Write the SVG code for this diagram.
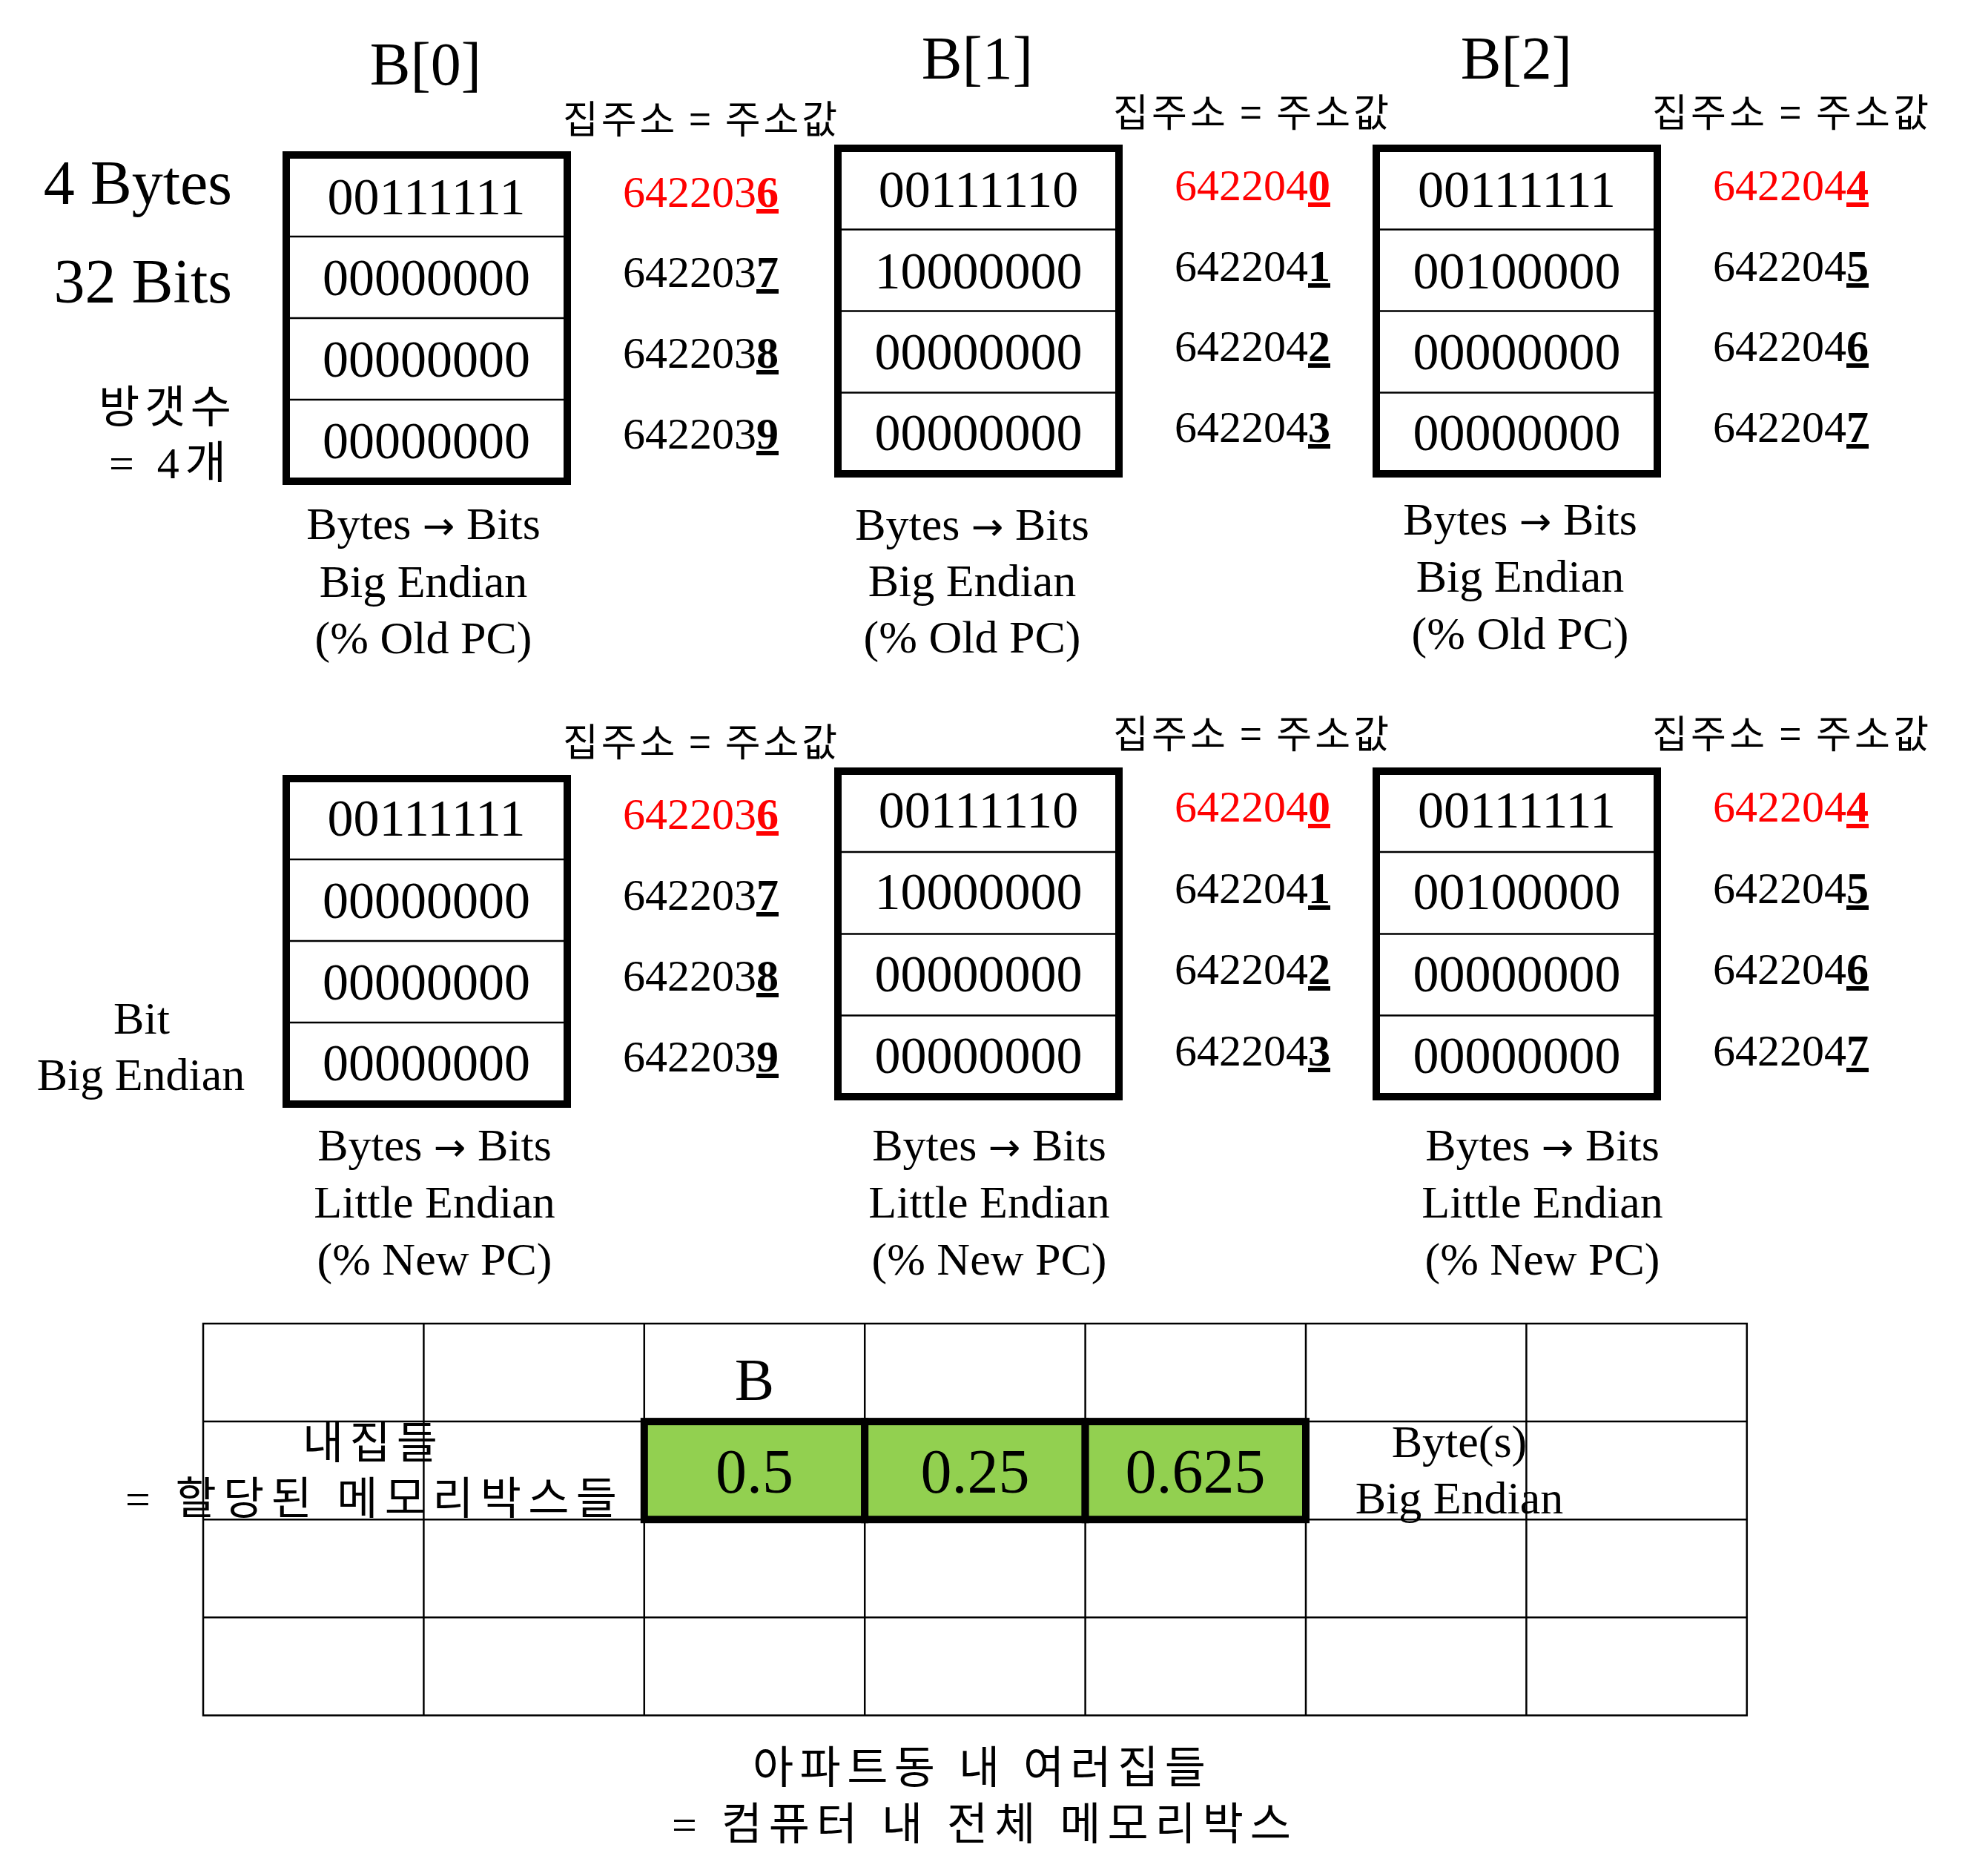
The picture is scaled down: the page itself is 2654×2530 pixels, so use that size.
<svg xmlns="http://www.w3.org/2000/svg" width="2654" height="2530" viewBox="0 0 2654 2530">
<style>
text{font-family:"Liberation Serif","Noto Sans CJK KR",serif;fill:#000}
.box{fill:#fff;stroke:#000;stroke-width:10}
.dv{stroke:#000;stroke-width:2.5}
.val{font-size:70px;text-anchor:middle}
.addr{font-size:60px;text-anchor:end}
.red{fill:#FF0000}
.bu{font-weight:bold;text-decoration:underline}
.cap{font-size:62px;text-anchor:middle}
.ar{font-family:"DejaVu Sans",sans-serif;font-size:52px}
.ttl{font-size:82px;text-anchor:middle}
.kl{font-family:"Noto Sans CJK KR","Liberation Serif",sans-serif;font-size:52px}
.big{font-size:84px;text-anchor:end}
.grid{stroke:#000;stroke-width:2.5;fill:none}
.green{fill:#92D050;stroke:#000;stroke-width:10}
.ko{font-family:"Liberation Serif","Noto Sans CJK KR",sans-serif;font-size:60px}
</style>
<rect x="0" y="0" width="2654" height="2530" fill="#fff"/>

<g id="titles">
<text class="ttl" x="574" y="114">B[0]</text>
<text class="ttl" x="1318" y="106">B[1]</text>
<text class="ttl" x="2045" y="106">B[2]</text>
</g>

<g id="left-labels">
<text class="big" x="313" y="275">4 Bytes</text>
<text class="big" x="313" y="408">32 Bits</text>
<text class="ko" x="312" y="570" text-anchor="end" textLength="179" lengthAdjust="spacing">방갯수</text>
<text class="ko" x="305" y="645" text-anchor="end" textLength="158" lengthAdjust="spacing">= 4개</text>
<text class="cap" x="191" y="1394">Bit</text>
<text class="cap" x="190" y="1470">Big Endian</text>
</g>

<g id="addr-labels">
<text class="kl" x="759" y="180" textLength="370" lengthAdjust="spacing">집주소 = 주소값</text>
<text class="kl" x="1501" y="171" textLength="372" lengthAdjust="spacing">집주소 = 주소값</text>
<text class="kl" x="2228" y="171" textLength="373" lengthAdjust="spacing">집주소 = 주소값</text>
<text class="kl" x="759" y="1020" textLength="370" lengthAdjust="spacing">집주소 = 주소값</text>
<text class="kl" x="1501" y="1009" textLength="372" lengthAdjust="spacing">집주소 = 주소값</text>
<text class="kl" x="2228" y="1009" textLength="373" lengthAdjust="spacing">집주소 = 주소값</text>
</g>

<g id="box-B0-big">
<rect class="box" x="386" y="209" width="379" height="440"/>
<line class="dv" x1="391" y1="319" x2="760" y2="319"/>
<line class="dv" x1="391" y1="429" x2="760" y2="429"/>
<line class="dv" x1="391" y1="539" x2="760" y2="539"/>
<text class="val" x="575" y="289">00111111</text>
<text class="val" x="575" y="398">00000000</text>
<text class="val" x="575" y="508">00000000</text>
<text class="val" x="575" y="618">00000000</text>
<text class="addr red" x="1050" y="279">642203<tspan class="bu">6</tspan></text>
<text class="addr" x="1050" y="387">642203<tspan class="bu">7</tspan></text>
<text class="addr" x="1050" y="496">642203<tspan class="bu">8</tspan></text>
<text class="addr" x="1050" y="605">642203<tspan class="bu">9</tspan></text>
<text class="cap" x="571" y="727">Bytes <tspan class="ar">→</tspan> Bits</text>
<text class="cap" x="571" y="805">Big Endian</text>
<text class="cap" x="571" y="881">(% Old PC)</text>
</g>

<g id="box-B1-big">
<rect class="box" x="1130" y="200" width="379" height="439"/>
<line class="dv" x1="1135" y1="309.5" x2="1504" y2="309.5"/>
<line class="dv" x1="1135" y1="419.5" x2="1504" y2="419.5"/>
<line class="dv" x1="1135" y1="529.5" x2="1504" y2="529.5"/>
<text class="val" x="1319.5" y="279">00111110</text>
<text class="val" x="1319.5" y="389">10000000</text>
<text class="val" x="1319.5" y="498">00000000</text>
<text class="val" x="1319.5" y="607">00000000</text>
<text class="addr red" x="1794" y="270">642204<tspan class="bu">0</tspan></text>
<text class="addr" x="1794" y="379">642204<tspan class="bu">1</tspan></text>
<text class="addr" x="1794" y="487">642204<tspan class="bu">2</tspan></text>
<text class="addr" x="1794" y="596">642204<tspan class="bu">3</tspan></text>
<text class="cap" x="1311" y="728">Bytes <tspan class="ar">→</tspan> Bits</text>
<text class="cap" x="1311" y="804">Big Endian</text>
<text class="cap" x="1311" y="880">(% Old PC)</text>
</g>

<g id="box-B2-big">
<rect class="box" x="1856" y="200" width="379" height="439"/>
<line class="dv" x1="1861" y1="309.5" x2="2230" y2="309.5"/>
<line class="dv" x1="1861" y1="419.5" x2="2230" y2="419.5"/>
<line class="dv" x1="1861" y1="529.5" x2="2230" y2="529.5"/>
<text class="val" x="2045.5" y="279">00111111</text>
<text class="val" x="2045.5" y="389">00100000</text>
<text class="val" x="2045.5" y="498">00000000</text>
<text class="val" x="2045.5" y="607">00000000</text>
<text class="addr red" x="2520" y="270">642204<tspan class="bu">4</tspan></text>
<text class="addr" x="2520" y="379">642204<tspan class="bu">5</tspan></text>
<text class="addr" x="2520" y="487">642204<tspan class="bu">6</tspan></text>
<text class="addr" x="2520" y="596">642204<tspan class="bu">7</tspan></text>
<text class="cap" x="2050" y="721">Bytes <tspan class="ar">→</tspan> Bits</text>
<text class="cap" x="2050" y="798">Big Endian</text>
<text class="cap" x="2050" y="875">(% Old PC)</text>
</g>

<g id="box-B0-little">
<rect class="box" x="386" y="1050" width="379" height="439"/>
<line class="dv" x1="391" y1="1159" x2="760" y2="1159"/>
<line class="dv" x1="391" y1="1269" x2="760" y2="1269"/>
<line class="dv" x1="391" y1="1379" x2="760" y2="1379"/>
<text class="val" x="575" y="1127">00111111</text>
<text class="val" x="575" y="1238">00000000</text>
<text class="val" x="575" y="1348">00000000</text>
<text class="val" x="575" y="1457">00000000</text>
<text class="addr red" x="1050" y="1118">642203<tspan class="bu">6</tspan></text>
<text class="addr" x="1050" y="1227">642203<tspan class="bu">7</tspan></text>
<text class="addr" x="1050" y="1336">642203<tspan class="bu">8</tspan></text>
<text class="addr" x="1050" y="1445">642203<tspan class="bu">9</tspan></text>
<text class="cap" x="586" y="1565">Bytes <tspan class="ar">→</tspan> Bits</text>
<text class="cap" x="586" y="1642">Little Endian</text>
<text class="cap" x="586" y="1719">(% New PC)</text>
</g>

<g id="box-B1-little">
<rect class="box" x="1130" y="1040" width="379" height="439"/>
<line class="dv" x1="1135" y1="1149" x2="1504" y2="1149"/>
<line class="dv" x1="1135" y1="1259.5" x2="1504" y2="1259.5"/>
<line class="dv" x1="1135" y1="1369.5" x2="1504" y2="1369.5"/>
<text class="val" x="1319.5" y="1116">00111110</text>
<text class="val" x="1319.5" y="1226">10000000</text>
<text class="val" x="1319.5" y="1337">00000000</text>
<text class="val" x="1319.5" y="1447">00000000</text>
<text class="addr red" x="1794" y="1108">642204<tspan class="bu">0</tspan></text>
<text class="addr" x="1794" y="1218">642204<tspan class="bu">1</tspan></text>
<text class="addr" x="1794" y="1327">642204<tspan class="bu">2</tspan></text>
<text class="addr" x="1794" y="1437">642204<tspan class="bu">3</tspan></text>
<text class="cap" x="1334" y="1565">Bytes <tspan class="ar">→</tspan> Bits</text>
<text class="cap" x="1334" y="1642">Little Endian</text>
<text class="cap" x="1334" y="1719">(% New PC)</text>
</g>

<g id="box-B2-little">
<rect class="box" x="1856" y="1040" width="379" height="439"/>
<line class="dv" x1="1861" y1="1149" x2="2230" y2="1149"/>
<line class="dv" x1="1861" y1="1259.5" x2="2230" y2="1259.5"/>
<line class="dv" x1="1861" y1="1369.5" x2="2230" y2="1369.5"/>
<text class="val" x="2045.5" y="1116">00111111</text>
<text class="val" x="2045.5" y="1226">00100000</text>
<text class="val" x="2045.5" y="1337">00000000</text>
<text class="val" x="2045.5" y="1447">00000000</text>
<text class="addr red" x="2520" y="1108">642204<tspan class="bu">4</tspan></text>
<text class="addr" x="2520" y="1218">642204<tspan class="bu">5</tspan></text>
<text class="addr" x="2520" y="1327">642204<tspan class="bu">6</tspan></text>
<text class="addr" x="2520" y="1437">642204<tspan class="bu">7</tspan></text>
<text class="cap" x="2080" y="1565">Bytes <tspan class="ar">→</tspan> Bits</text>
<text class="cap" x="2080" y="1642">Little Endian</text>
<text class="cap" x="2080" y="1719">(% New PC)</text>
</g>

<g id="memory-table">
<rect class="grid" x="274" y="1785" width="2081.8" height="528.4"/>
<line class="grid" x1="571.4" y1="1785" x2="571.4" y2="2313.4"/>
<line class="grid" x1="868.8" y1="1785" x2="868.8" y2="2313.4"/>
<line class="grid" x1="1166.2" y1="1785" x2="1166.2" y2="2313.4"/>
<line class="grid" x1="1463.6" y1="1785" x2="1463.6" y2="2313.4"/>
<line class="grid" x1="1761" y1="1785" x2="1761" y2="2313.4"/>
<line class="grid" x1="2058.4" y1="1785" x2="2058.4" y2="2313.4"/>
<line class="grid" x1="274" y1="1917.1" x2="2355.8" y2="1917.1"/>
<line class="grid" x1="274" y1="2049.2" x2="2355.8" y2="2049.2"/>
<line class="grid" x1="274" y1="2181.3" x2="2355.8" y2="2181.3"/>
</g>

<g id="array-B">
<rect class="green" x="868.8" y="1917.1" width="297.4" height="132.1"/>
<rect class="green" x="1166.2" y="1917.1" width="297.4" height="132.1"/>
<rect class="green" x="1463.6" y="1917.1" width="297.4" height="132.1"/>
<text class="ttl" x="1017.5" y="1888" style="font-size:80px">B</text>
<text class="ttl" x="1017.5" y="2013" style="font-size:84px">0.5</text>
<text class="ttl" x="1315" y="2013" style="font-size:84px">0.25</text>
<text class="ttl" x="1612" y="2013" style="font-size:84px">0.625</text>
</g>

<g id="table-labels">
<text class="cap" x="1968" y="1965">Byte(s)</text>
<text class="cap" x="1968" y="2041">Big Endian</text>
<text class="ko" x="408" y="1967" textLength="182" lengthAdjust="spacing">내집들</text>
<text class="ko" x="169" y="2042" textLength="663" lengthAdjust="spacing">= 할당된 메모리박스들</text>
</g>

<g id="bottom-caption">
<text class="ko" x="1015" y="2405" textLength="611" lengthAdjust="spacing">아파트동 내 여러집들</text>
<text class="ko" x="906" y="2481" textLength="835" lengthAdjust="spacing">= 컴퓨터 내 전체 메모리박스</text>
</g>
</svg>
